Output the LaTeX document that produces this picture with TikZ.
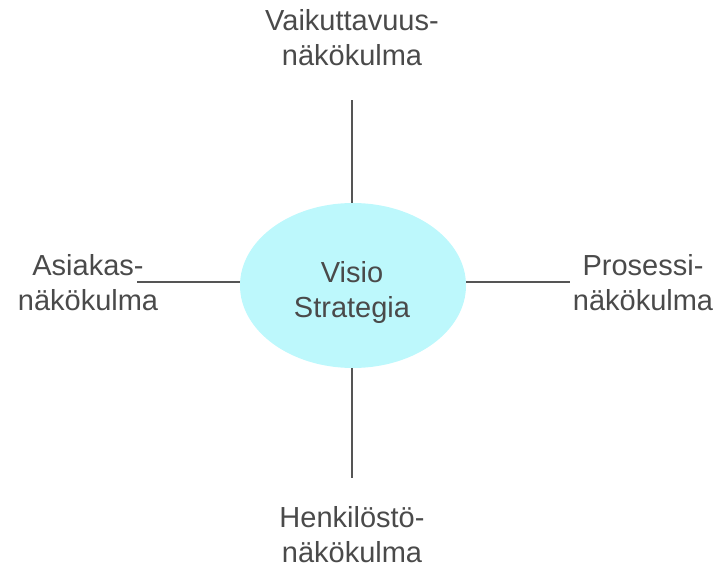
\documentclass[tikz,border=0pt]{standalone}
\usepackage{fontspec}
\setmainfont{Liberation Sans}
\usetikzlibrary{shapes.geometric}
\definecolor{txt}{HTML}{4A4A4A}
\definecolor{ln}{HTML}{555555}
\definecolor{fillc}{HTML}{BDF8FC}
\begin{document}
\begin{tikzpicture}[x=1pt,y=-1pt,
  lbl/.style={align=center,text=txt,font=\fontsize{29}{35}\selectfont,inner sep=0pt},
  conn/.style={draw=ln,line width=1.3pt}]
\useasboundingbox (0,0) rectangle (716,567);
\node[ellipse,fill=fillc,minimum width=226pt,minimum height=165pt,inner sep=0pt] (c) at (353,285.5) {};
\node[lbl] (ct) at (352,293) {Visio\\Strategia};
\node[lbl] (top) at (352,38) {Vaikuttavuus-\\näkökulma};
\node[lbl] (bot) at (352,535) {Henkilöstö-\\näkökulma};
\node[lbl] (left) at (88,283) {Asiakas-\\näkökulma};
\node[lbl] (right) at (643,283) {Prosessi-\\näkökulma};
\coordinate (tE) at (352,100);
\coordinate (bE) at (352,478);
\coordinate (lE) at (137,282);
\coordinate (rE) at (570,282);
\draw[conn] (c.north) ++(-1,0) -- (tE);
\draw[conn] (c.south) ++(-1,0) -- (bE);
\draw[conn] (c.west |- lE) -- (lE);
\draw[conn] (c.east |- rE) -- (rE);
\end{tikzpicture}
\end{document}
